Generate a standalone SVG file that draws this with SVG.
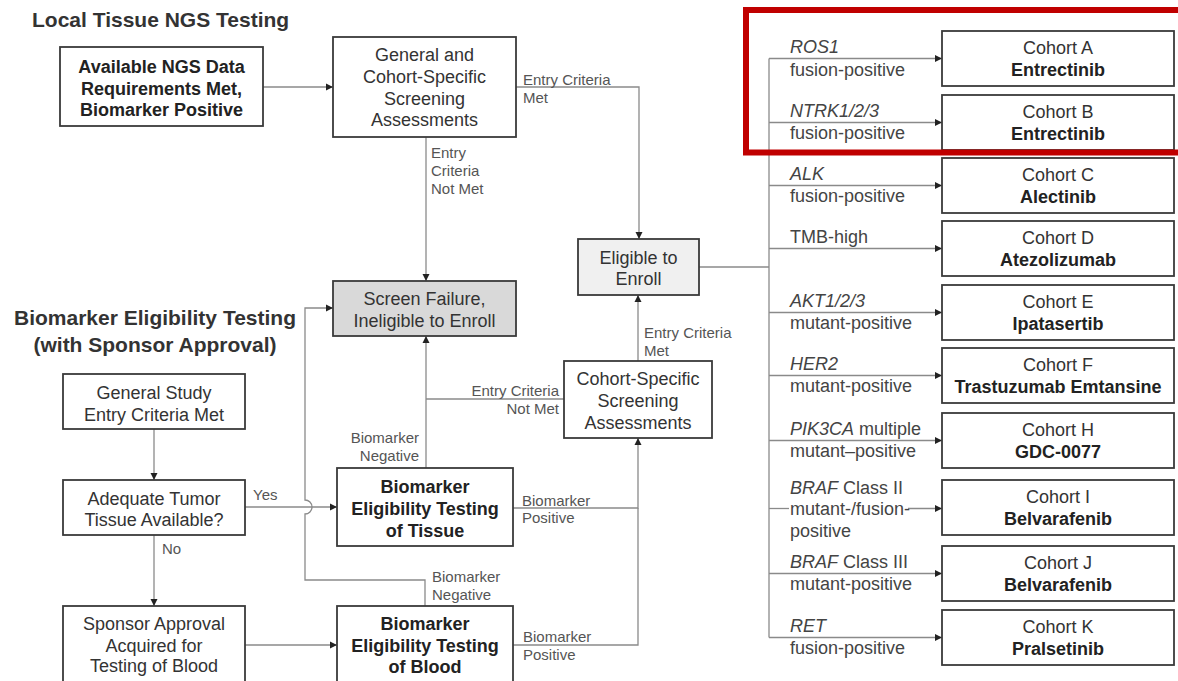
<svg xmlns="http://www.w3.org/2000/svg" width="1178" height="681" viewBox="0 0 1178 681">
<defs>
<marker id="ar" markerWidth="8" markerHeight="8" refX="7" refY="4" orient="auto" markerUnits="userSpaceOnUse">
<path d="M0,0.5 L7,4 L0,7.5 Z" fill="#222"/>
</marker>
<style>
text{font-family:"Liberation Sans",Arial,Helvetica,sans-serif;}
.box{fill:#fff;stroke:#3a3a3a;stroke-width:1.8;}
.ln{fill:none;stroke:#8a8a8a;stroke-width:1.3;}
.arr{marker-end:url(#ar);}
.t{font-size:18px;fill:#333;text-anchor:middle;}
.b{font-size:18px;fill:#222;font-weight:bold;text-anchor:middle;}
.h{font-size:21px;fill:#333;font-weight:bold;}
.s{font-size:15px;fill:#555;}
.l{font-size:18px;fill:#444;}
.i{font-style:italic;}
</style>
</defs>
<rect width="1178" height="681" fill="#fff"/>

<g id="titles">
<text class="h" x="32" y="27">Local Tissue NGS Testing</text>
<text class="h" x="155" y="325" text-anchor="middle">Biomarker Eligibility Testing</text>
<text class="h" x="155" y="352" text-anchor="middle">(with Sponsor Approval)</text>
</g>

<g id="connectors">
<path class="ln arr" d="M263,87 H333"/>
<path class="ln arr" d="M516,87 H639 V239"/>
<path class="ln arr" d="M426,137 V281"/>
<path class="ln" d="M699,267 H769"/>
<path class="ln" d="M769,58.5 V637.5"/>
<path class="ln arr" d="M769,58.5 H942"/>
<path class="ln arr" d="M769,122.5 H942"/>
<path class="ln arr" d="M769,185.5 H942"/>
<path class="ln arr" d="M769,248.5 H942"/>
<path class="ln arr" d="M769,312.5 H942"/>
<path class="ln arr" d="M769,375.5 H942"/>
<path class="ln arr" d="M769,440.5 H942"/>
<path class="ln" d="M769,508.5 H789"/>
<path class="ln arr" d="M908,508.5 H942"/>
<path class="ln arr" d="M769,573.5 H942"/>
<path class="ln arr" d="M769,637.5 H942"/>
<path class="ln arr" d="M638,361 V295"/>
<path class="ln" d="M564,399 H426"/>
<path class="ln arr" d="M426,468 V336"/>
<path class="ln arr" d="M513,508 H638 V438"/>
<path class="ln" d="M513,645 H638 V508"/>
<path class="ln arr" d="M154,429 V480"/>
<path class="ln arr" d="M245,507 H337"/>
<path class="ln arr" d="M154,535 V606"/>
<path class="ln arr" d="M245,645 H337"/>
<path class="ln arr" d="M425,606 V580 H305 V514 A7,7 0 0 0 305,500 V308 H333"/>
</g>

<g id="labels">
<text class="s" x="523" y="84.5">Entry Criteria</text>
<text class="s" x="523" y="102.5">Met</text>
<text class="s" x="431" y="157.5">Entry</text>
<text class="s" x="431" y="175.5">Criteria</text>
<text class="s" x="431" y="193.5">Not Met</text>
<text class="s" x="559" y="395.5" text-anchor="end">Entry Criteria</text>
<text class="s" x="559" y="413.5" text-anchor="end">Not Met</text>
<text class="s" x="644" y="337.5">Entry Criteria</text>
<text class="s" x="644" y="355.5">Met</text>
<text class="s" x="419" y="442.5" text-anchor="end">Biomarker</text>
<text class="s" x="419" y="461" text-anchor="end">Negative</text>
<text class="s" x="522" y="505.5">Biomarker</text>
<text class="s" x="522" y="522.5">Positive</text>
<text class="s" x="432" y="581.5">Biomarker</text>
<text class="s" x="432" y="599.5">Negative</text>
<text class="s" x="523" y="641.5">Biomarker</text>
<text class="s" x="523" y="659.5">Positive</text>
<text class="s" x="253" y="500">Yes</text>
<text class="s" x="162" y="553.5">No</text>
<text class="l" x="790" y="53"><tspan class="i">ROS1</tspan></text>
<text class="l" x="790" y="75.5">fusion-positive</text>
<text class="l" x="790" y="117"><tspan class="i">NTRK1/2/3</tspan></text>
<text class="l" x="790" y="139">fusion-positive</text>
<text class="l" x="790" y="180"><tspan class="i">ALK</tspan></text>
<text class="l" x="790" y="202">fusion-positive</text>
<text class="l" x="790" y="243">TMB-high</text>
<text class="l" x="790" y="307"><tspan class="i">AKT1/2/3</tspan></text>
<text class="l" x="790" y="329">mutant-positive</text>
<text class="l" x="790" y="370"><tspan class="i">HER2</tspan></text>
<text class="l" x="790" y="392">mutant-positive</text>
<text class="l" x="790" y="435"><tspan class="i">PIK3CA</tspan> multiple</text>
<text class="l" x="790" y="457">mutant–positive</text>
<text class="l" x="790" y="493.5"><tspan class="i">BRAF</tspan> Class II</text>
<text class="l" x="790" y="514.5">mutant-/fusion-</text>
<text class="l" x="790" y="536.5">positive</text>
<text class="l" x="790" y="568"><tspan class="i">BRAF</tspan> Class III</text>
<text class="l" x="790" y="590">mutant-positive</text>
<text class="l" x="790" y="632"><tspan class="i">RET</tspan></text>
<text class="l" x="790" y="654">fusion-positive</text>
</g>

<g id="n-ngs"><rect class="box" x="60" y="47" width="203" height="79"/>
<text class="b" x="161.5" y="73">Available NGS Data</text>
<text class="b" x="161.5" y="94.5">Requirements Met,</text>
<text class="b" x="161.5" y="116">Biomarker Positive</text></g>

<g id="n-screen1"><rect class="box" x="333" y="37" width="183" height="100"/>
<text class="t" x="424.5" y="61">General and</text>
<text class="t" x="424.5" y="83">Cohort-Specific</text>
<text class="t" x="424.5" y="104.5">Screening</text>
<text class="t" x="424.5" y="126">Assessments</text></g>

<g id="n-fail"><rect class="box" x="333" y="281" width="183" height="55" style="fill:#d9d9d9"/>
<text class="t" x="424.5" y="304.5">Screen Failure,</text>
<text class="t" x="424.5" y="326.5">Ineligible to Enroll</text></g>

<g id="n-eligible"><rect class="box" x="578" y="239" width="121" height="56" style="fill:#f0f0f0"/>
<text class="t" x="638.5" y="263.5">Eligible to</text>
<text class="t" x="638.5" y="284.5">Enroll</text></g>

<g id="n-screen2"><rect class="box" x="564" y="361" width="148" height="77"/>
<text class="t" x="638" y="384.5">Cohort-Specific</text>
<text class="t" x="638" y="406.5">Screening</text>
<text class="t" x="638" y="428.5">Assessments</text></g>

<g id="n-general"><rect class="box" x="63" y="374" width="182" height="55"/>
<text class="t" x="154" y="398.5">General Study</text>
<text class="t" x="154" y="420.5">Entry Criteria Met</text></g>

<g id="n-adequate"><rect class="box" x="63" y="480" width="182" height="55"/>
<text class="t" x="154" y="504.5">Adequate Tumor</text>
<text class="t" x="154" y="525.5">Tissue Available?</text></g>

<g id="n-sponsor"><rect class="box" x="63" y="606" width="182" height="82"/>
<text class="t" x="154" y="629.5">Sponsor Approval</text>
<text class="t" x="154" y="651.5">Acquired for</text>
<text class="t" x="154" y="671.5">Testing of Blood</text></g>

<g id="n-tissue"><rect class="box" x="337" y="468" width="176" height="78"/>
<text class="b" x="425" y="492.5">Biomarker</text>
<text class="b" x="425" y="514.5">Eligibility Testing</text>
<text class="b" x="425" y="536.5">of Tissue</text></g>

<g id="n-blood"><rect class="box" x="337" y="606" width="176" height="82"/>
<text class="b" x="425" y="629.5">Biomarker</text>
<text class="b" x="425" y="651.5">Eligibility Testing</text>
<text class="b" x="425" y="673">of Blood</text></g>

<g id="c-A"><rect class="box" x="942" y="31" width="232" height="55"/><text class="t" x="1058" y="54">Cohort A</text><text class="b" x="1058" y="75.5">Entrectinib</text></g>
<g id="c-B"><rect class="box" x="942" y="95" width="232" height="55"/><text class="t" x="1058" y="118">Cohort B</text><text class="b" x="1058" y="139.5">Entrectinib</text></g>
<g id="c-C"><rect class="box" x="942" y="158" width="232" height="55"/><text class="t" x="1058" y="181">Cohort C</text><text class="b" x="1058" y="202.5">Alectinib</text></g>
<g id="c-D"><rect class="box" x="942" y="221" width="232" height="55"/><text class="t" x="1058" y="244">Cohort D</text><text class="b" x="1058" y="265.5">Atezolizumab</text></g>
<g id="c-E"><rect class="box" x="942" y="285" width="232" height="55"/><text class="t" x="1058" y="308">Cohort E</text><text class="b" x="1058" y="329.5">Ipatasertib</text></g>
<g id="c-F"><rect class="box" x="942" y="348" width="232" height="55"/><text class="t" x="1058" y="371">Cohort F</text><text class="b" x="1058" y="392.5">Trastuzumab Emtansine</text></g>
<g id="c-H"><rect class="box" x="942" y="413" width="232" height="55"/><text class="t" x="1058" y="436">Cohort H</text><text class="b" x="1058" y="457.5">GDC-0077</text></g>
<g id="c-I"><rect class="box" x="942" y="480" width="232" height="55"/><text class="t" x="1058" y="503">Cohort I</text><text class="b" x="1058" y="524.5">Belvarafenib</text></g>
<g id="c-J"><rect class="box" x="942" y="546" width="232" height="55"/><text class="t" x="1058" y="569">Cohort J</text><text class="b" x="1058" y="590.5">Belvarafenib</text></g>
<g id="c-K"><rect class="box" x="942" y="610" width="232" height="55"/><text class="t" x="1058" y="633">Cohort K</text><text class="b" x="1058" y="654.5">Pralsetinib</text></g>

<g id="highlight"><rect x="746" y="10" width="440" height="142.5" fill="none" stroke="#c00000" stroke-width="6"/></g>
</svg>
